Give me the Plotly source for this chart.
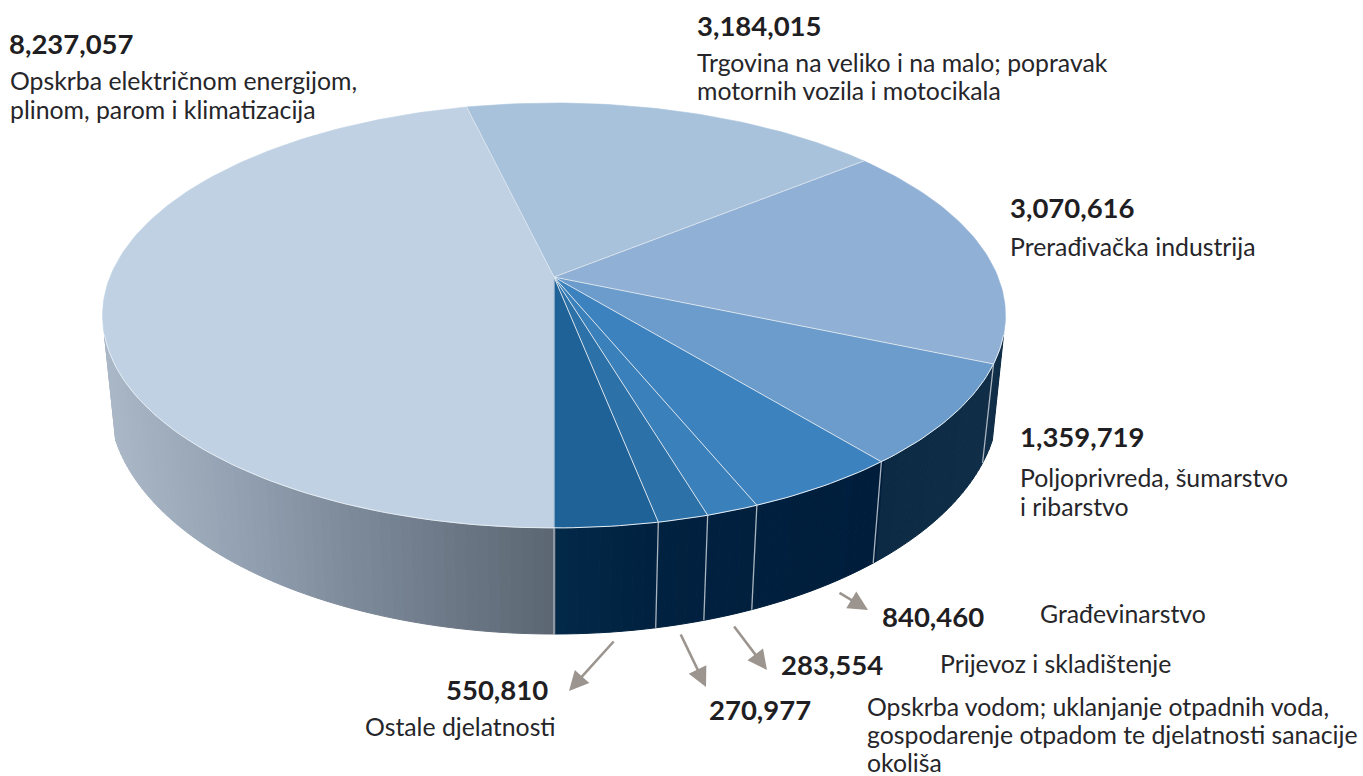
import math
import plotly.graph_objects as go

# ---- data ----
categories = ["Opskrba električnom energijom, plinom, parom i klimatizacija",
              "Trgovina na veliko i na malo; popravak motornih vozila i motocikala",
              "Prerađivačka industrija", "Poljoprivreda, šumarstvo i ribarstvo",
              "Građevinarstvo", "Prijevoz i skladištenje",
              "Opskrba vodom; uklanjanje otpadnih voda, gospodarenje otpadom te djelatnosti sanacije okoliša",
              "Ostale djelatnosti"]
values = [8237057, 3184015, 3070616, 1359719, 840460, 283554, 270977, 550810]
top_colors = ["#c0d1e4", "#a8c2dc", "#90b0d5", "#6c9ccb", "#3c82bf", "#3a80bb", "#2c71a8", "#1f6297"]

value_labels = ["8,237,057", "3,184,015", "3,070,616", "1,359,719", "840,460", "283,554", "270,977", "550,810"]
value_x = [9, 697, 1010, 1020, 882, 781, 709, 446]
value_y = [47, 29, 211, 440, 620, 668, 713, 693]

text_lines = ["Opskrba električnom energijom,", "plinom, parom i klimatizacija",
              "Trgovina na veliko i na malo; popravak", "motornih vozila i motocikala",
              "Prerađivačka industrija", "Poljoprivreda, šumarstvo", "i ribarstvo",
              "Građevinarstvo", "Prijevoz i skladištenje",
              "Opskrba vodom; uklanjanje otpadnih voda,", "gospodarenje otpadom te djelatnosti sanacije", "okoliša",
              "Ostale djelatnosti"]
text_x = [10, 10, 697, 697, 1010, 1020, 1020, 1040, 940, 867, 867, 867, 365]
text_y = [84, 113, 66, 94, 250, 481, 510, 617, 667, 710, 738, 766, 730]

arrow_tail_x = [838, 733, 680, 615]
arrow_tail_y = [592, 625, 633, 640]
arrow_head_x = [868, 767, 706, 569]
arrow_head_y = [610, 670, 687, 691]

# ---- projection of the pie disc into picture coordinates ----
APEX_X, APEX_Y = 554, 277
A, C, D = 205.5, -0.181, 444.0
LOW_CY, LOW_RX, LOW_RY, LOW_SCALE = 400, 445, 234, 0.975
WALL_FROM, WALL_TO = 105.5, 254.5


def rim(deg):
    """deg runs clockwise on screen from the far point of the disc."""
    u, v = math.sin(math.radians(deg)), -math.cos(math.radians(deg))
    den = 1 + C * v
    return APEX_X + D * u / den, APEX_Y + A * v / den


def low(deg):
    x, _ = rim(deg)
    dx = (x - APEX_X) * LOW_SCALE
    return APEX_X + dx, LOW_CY + LOW_RY * math.sqrt(max(0, 1 - (dx / LOW_RX) ** 2))


def mix(stops, t):
    for (t0, c0), (t1, c1) in zip(stops, stops[1:]):
        if t <= t1:
            f = (t - t0) / (t1 - t0)
            f = max(0, min(1, f))
            rgb = [round(c0[i] + (c1[i] - c0[i]) * f) for i in range(3)]
            return "rgb(%d,%d,%d)" % tuple(rgb)
    return "rgb(%d,%d,%d)" % tuple(stops[-1][1])


wall_stops = [(100, (171, 184, 199)), (240, (146, 160, 177)), (350, (125, 138, 154)),
              (450, (108, 120, 134)), (554, (92, 102, 115)), (555, (3, 41, 73)),
              (650, (1, 33, 64)), (880, (0, 30, 60)), (882, (13, 42, 68)), (1010, (16, 46, 72))]

# slice boundaries: the start is the nearest point of the disc (180 deg), clockwise
total = sum(values)
bounds = [180.0]
for val in values:
    bounds.append(bounds[-1] + 360.0 * val / total)

fig = go.Figure()
common = dict(mode="lines", hoverinfo="skip", showlegend=False)

# side wall, as thin strips
d = WALL_FROM
while d < WALL_TO:
    e = min(d + 1.2, WALL_TO)
    p0, p1, q1, q0 = rim(d), rim(e), low(e), low(d)
    col = mix(wall_stops, (p0[0] + p1[0]) / 2)
    fig.add_trace(go.Scatter(x=[p0[0], p1[0], q1[0], q0[0], p0[0]], y=[p0[1], p1[1], q1[1], q0[1], p0[1]],
                             fill="toself", fillcolor=col, line=dict(color=col, width=1), **common))
    d = e

# wall seams
for b in bounds[:-1]:
    deg = b % 360
    if WALL_FROM < deg < WALL_TO:
        p, q = rim(deg), low(deg)
        fig.add_trace(go.Scatter(x=[p[0], q[0]], y=[p[1], q[1]], line=dict(color="#a9b4bf", width=1.3), **common))

# top of the pie
for i, val in enumerate(values):
    a0, a1 = bounds[i], bounds[i + 1]
    n = max(6, int((a1 - a0) / 1.0))
    pts = [rim(a0 + (a1 - a0) * k / n) for k in range(n + 1)]
    xs = [APEX_X] + [p[0] for p in pts] + [APEX_X]
    ys = [APEX_Y] + [p[1] for p in pts] + [APEX_Y]
    fig.add_trace(go.Scatter(x=xs, y=ys, fill="toself", fillcolor=top_colors[i], name=categories[i],
                             line=dict(color=top_colors[i], width=0.6), mode="lines", showlegend=False,
                             hovertemplate=f"{categories[i]}: {val:,}<extra></extra>"))

# radial separators and the light front rim
for b in bounds[:-1]:
    p = rim(b % 360)
    fig.add_trace(go.Scatter(x=[APEX_X, p[0]], y=[APEX_Y, p[1]], line=dict(color="#dde6ef", width=1), **common))
front = [rim(WALL_FROM + (WALL_TO - WALL_FROM) * k / 150) for k in range(151)]
fig.add_trace(go.Scatter(x=[p[0] for p in front], y=[p[1] for p in front],
                         line=dict(color="#e6edf3", width=1), **common))

# texts
fig.add_trace(go.Scatter(x=value_x, y=value_y, text=[f"<b>{s}</b>" for s in value_labels], mode="text",
                         textposition="middle right", hoverinfo="skip", showlegend=False, cliponaxis=False,
                         textfont=dict(family="Lato", size=27.5, color="#1f1e22")))
fig.add_trace(go.Scatter(x=text_x, y=text_y, text=text_lines, mode="text",
                         textposition="middle right", hoverinfo="skip", showlegend=False, cliponaxis=False,
                         textfont=dict(family="Lato", size=24.8, color="#26262a")))

ann = []
for tx, ty, hx, hy in zip(arrow_tail_x, arrow_tail_y, arrow_head_x, arrow_head_y):
    ann.append(dict(x=hx, y=hy, ax=tx, ay=ty, axref="x", ayref="y", xref="x", yref="y", text="",
                    showarrow=True, arrowhead=2, arrowsize=1.5, arrowwidth=2.6, arrowcolor="#9c958f"))

fig.update_layout(width=1363, height=776, autosize=False, margin=dict(l=0, r=0, t=0, b=0),
                  paper_bgcolor="white", plot_bgcolor="white", annotations=ann, showlegend=False,
                  xaxis=dict(range=[0, 1363], visible=False, fixedrange=True),
                  yaxis=dict(range=[776, 0], visible=False, fixedrange=True))
fig.write_html("out.html", post_script="document.body.style.margin='0';document.body.style.overflow='hidden';",
               config=dict(displayModeBar=False))
